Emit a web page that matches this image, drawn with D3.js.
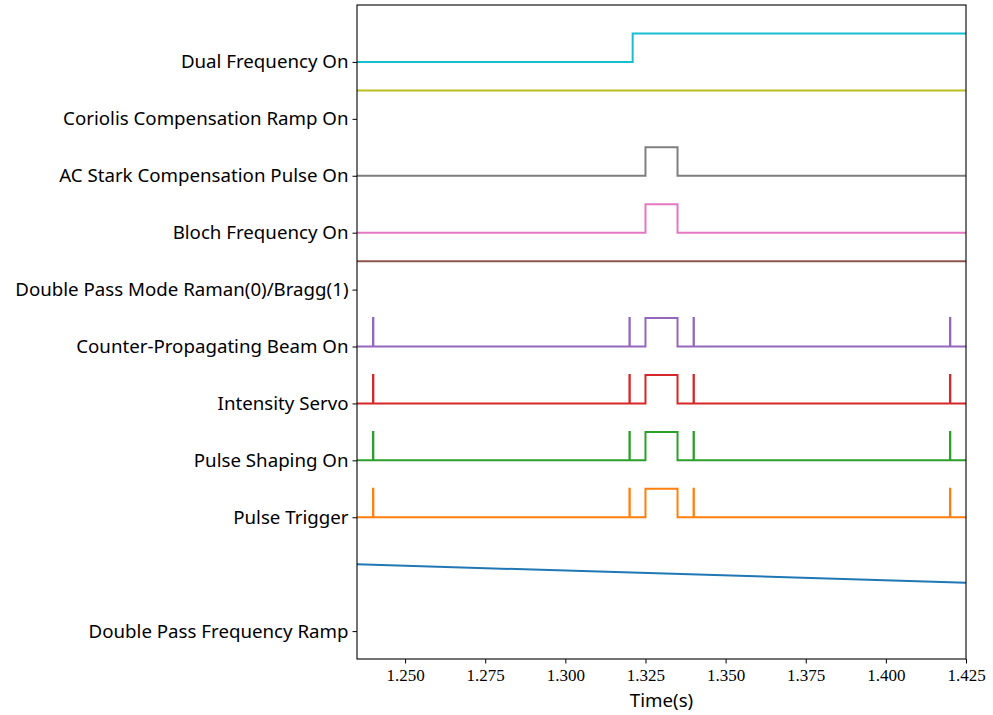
<!DOCTYPE html>
<html>
<head>
<meta charset="utf-8">
<script src="https://cdn.jsdelivr.net/npm/d3@7"></script>
<style>
  html, body { margin: 0; padding: 0; background: #fff; }
  svg { display: block; }
</style>
</head>
<body>
<svg id="chart" width="993" height="715"></svg>
<script>
// Channel names, bottom to top, with their vertical offsets on the plot
const channelNames = [
  "Double Pass Frequency Ramp",
  "Pulse Trigger",
  "Pulse Shaping On",
  "Intensity Servo",
  "Counter-Propagating Beam On",
  "Double Pass Mode Raman(0)/Bragg(1)",
  "Bloch Frequency On",
  "AC Stark Compensation Pulse On",
  "Coriolis Compensation Ramp On",
  "Dual Frequency On"
];
const channelOffsets = [0, 2, 3, 4, 5, 6, 7, 8, 9, 10];
const channelColors = [
  "#1f77b4", "#ff7f0e", "#2ca02c", "#d62728", "#9467bd",
  "#8c564b", "#e377c2", "#7f7f7f", "#bcbd22", "#17becf"
];

// Digital channels: initial state and toggle times (s)
const beamEdges = [1.2400, 1.2401, 1.3200, 1.3201, 1.3250, 1.3350, 1.3400, 1.3401, 1.4200, 1.4201];
const rfPulseEdges = [1.3250, 1.3350];
const dualFreqEdges = [1.3210];
const digitalInitial = [null, 0, 0, 0, 0, 1, 0, 0, 1, 0];
const digitalEdges = [null, beamEdges, beamEdges, beamEdges, beamEdges, [], rfPulseEdges, rfPulseEdges, [], dualFreqEdges];

// Analog ramp (in plot units)
const rampTimes = [1.235, 1.425];
const rampValues = [1.174, 0.85];

// Axis settings
const timeRange = [1.235, 1.425];
const xTickValues = [1.250, 1.275, 1.300, 1.325, 1.350, 1.375, 1.400, 1.425];
const yRange = [-0.49, 11.0];
const stepHeight = 0.5;

const margin = { top: 5, right: 27, bottom: 56, left: 357 };
const W = 993, H = 715;
const iw = W - margin.left - margin.right;
const ih = H - margin.top - margin.bottom;

const svg = d3.select("#chart");
const g = svg.append("g").attr("transform", `translate(${margin.left},${margin.top})`);

const x = d3.scaleLinear().domain(timeRange).range([0, iw]);
const y = d3.scaleLinear().domain(yRange).range([ih, 0]);

svg.append("defs").append("clipPath").attr("id", "plotclip")
  .append("rect").attr("x", 0).attr("y", -2).attr("width", iw).attr("height", ih + 4);

const plot = g.append("g").attr("clip-path", "url(#plotclip)");
const stepLine = d3.line().x(d => x(d[0])).y(d => y(d[1])).curve(d3.curveStepAfter);
const straight = d3.line().x(d => x(d[0])).y(d => y(d[1]));

channelNames.forEach((name, i) => {
  const off = channelOffsets[i];
  let pts;
  let gen;
  if (i === 0) {
    pts = rampTimes.map((t, k) => [t, off + rampValues[k]]);
    gen = straight;
  } else {
    let state = digitalInitial[i];
    pts = [[timeRange[0], off + state * stepHeight]];
    digitalEdges[i].forEach(t => {
      state = 1 - state;
      pts.push([t, off + state * stepHeight]);
    });
    pts.push([timeRange[1], off + state * stepHeight]);
    gen = stepLine;
  }
  plot.append("path")
    .attr("d", gen(pts))
    .attr("fill", "none")
    .attr("stroke", channelColors[i])
    .attr("stroke-width", 2)
    .attr("stroke-linejoin", "miter");
});

// Axes
const xAxis = g.append("g")
  .attr("transform", `translate(0,${ih})`)
  .call(d3.axisBottom(x).tickValues(xTickValues).tickFormat(d3.format(".3f")).tickSizeOuter(0).tickSize(4.5).tickPadding(5));
xAxis.select(".domain").remove();
xAxis.selectAll("line").attr("stroke", "#000").attr("stroke-width", 1);
xAxis.selectAll("text")
  .style("font-family", "'Liberation Serif', serif")
  .style("font-size", "17px")
  .style("fill", "#000");

const yAxis = g.append("g")
  .call(d3.axisLeft(y).tickValues(channelOffsets).tickFormat((d, k) => channelNames[k]).tickSize(4.5).tickPadding(4));
yAxis.select(".domain").remove();
yAxis.selectAll("line").attr("stroke", "#000").attr("stroke-width", 1);
yAxis.selectAll("text")
  .style("font-family", "'Noto Sans', sans-serif")
  .style("font-size", "18.7px")
  .style("fill", "#000");

// Frame
g.append("rect").attr("x", 0).attr("y", 0).attr("width", iw).attr("height", ih)
  .attr("fill", "none").attr("stroke", "#000").attr("stroke-width", 1.1);

g.append("text")
  .attr("x", iw / 2).attr("y", ih + 48)
  .attr("text-anchor", "middle")
  .style("font-family", "'Noto Sans', sans-serif")
  .style("font-size", "18.7px")
  .style("fill", "#000")
  .text("Time(s)");
</script>
</body>
</html>
